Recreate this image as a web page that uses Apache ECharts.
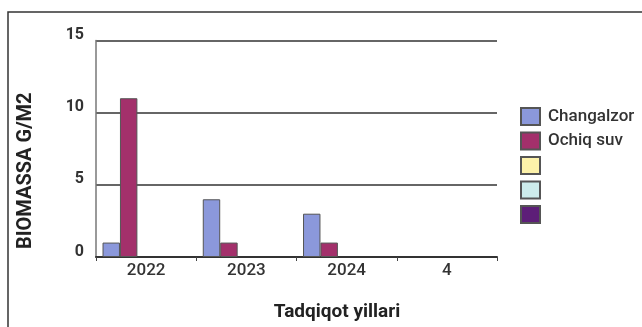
<!DOCTYPE html>
<html>
<head>
<meta charset="utf-8">
<script src="https://cdn.jsdelivr.net/npm/echarts@6/dist/echarts.min.js"></script>
<style>
  html, body { margin: 0; padding: 0; background: #fff; }
  #chart { width: 642px; height: 327px; }
</style>
</head>
<body>
<div id="chart"></div>
<script>
// Biomass by study year
const years = ['2022', '2023', '2024', '4'];
const seriesNames = ['Changalzor', 'Ochiq suv', ' ', '  ', '   '];
const changalzor = [1, 4, 3, null];
const ochiqSuv = [11, 1, 1, null];
const emptyA = [null, null, null, null];
const emptyB = [null, null, null, null];
const emptyC = [null, null, null, null];
const yTicks = [0, 5, 10, 15];

const colors = ['#8b98db', '#a3306b', '#fdf2aa', '#cdeceb', '#5d1e78'];
const seriesData = [changalzor, ochiqSuv, emptyA, emptyB, emptyC];

const chart = echarts.init(document.getElementById('chart'));
const font = 'Roboto, "Liberation Sans", sans-serif';

chart.setOption({
  backgroundColor: '#ffffff',
  animation: false,
  textStyle: { fontFamily: font },
  grid: { left: 96, right: 145, top: 40.5, bottom: 69 },
  legend: {
    orient: 'vertical',
    left: 515,
    top: 102,
    itemWidth: 19,
    itemHeight: 17,
    itemGap: 5.5,
    icon: 'rect',
    data: seriesNames,
    formatter: n => n.trim(),
    textStyle: { fontSize: 17, lineHeight: 17, color: '#333', fontFamily: font, fontWeight: 500, padding: [0, 0, 0, 3] }
  },
  xAxis: {
    type: 'category',
    data: years,
    name: 'Tadqiqot yillari',
    nameLocation: 'middle',
    nameGap: 46,
    nameTextStyle: { fontSize: 19, fontWeight: 'bold', color: '#222', padding: [0, 0, 0, 81] },
    axisLine: { lineStyle: { color: '#333', width: 2 } },
    axisTick: { show: true, length: 4, lineStyle: { color: '#444', width: 1 } },
    axisLabel: { fontSize: 17, color: '#333', fontWeight: 500, margin: 5 }
  },
  yAxis: {
    type: 'value',
    min: 0,
    max: 15,
    interval: 5,
    name: 'BIOMASSA G/M2',
    nameLocation: 'middle',
    nameGap: 60,
    nameRotate: 90,
    nameTextStyle: { fontSize: 20, fontWeight: 'bold', color: '#222', padding: [0, 44, 0, 0] },
    axisLine: { show: true, lineStyle: { color: '#777', width: 1.5 } },
    axisTick: { show: false },
    axisLabel: {
      fontSize: 16, color: '#333', fontWeight: 'bold', margin: 12,
      verticalAlign: 'bottom', lineHeight: 11,
      formatter: v => (yTicks.includes(v) ? String(v) : '')
    },
    splitLine: { lineStyle: { color: '#666', width: 2 } }
  },
  series: seriesNames.map((name, i) => ({
    name,
    type: 'bar',
    data: seriesData[i],
    barGap: '0%',
    barCategoryGap: '13%',
    itemStyle: { color: colors[i], borderColor: '#555', borderWidth: 1 }
  })),
  graphic: [{
    type: 'rect',
    shape: { x: 8, y: 12, width: 640, height: 330 },
    style: { fill: 'none', stroke: '#333', lineWidth: 1.5 },
    silent: true,
    z: -1
  }]
});
</script>
</body>
</html>
